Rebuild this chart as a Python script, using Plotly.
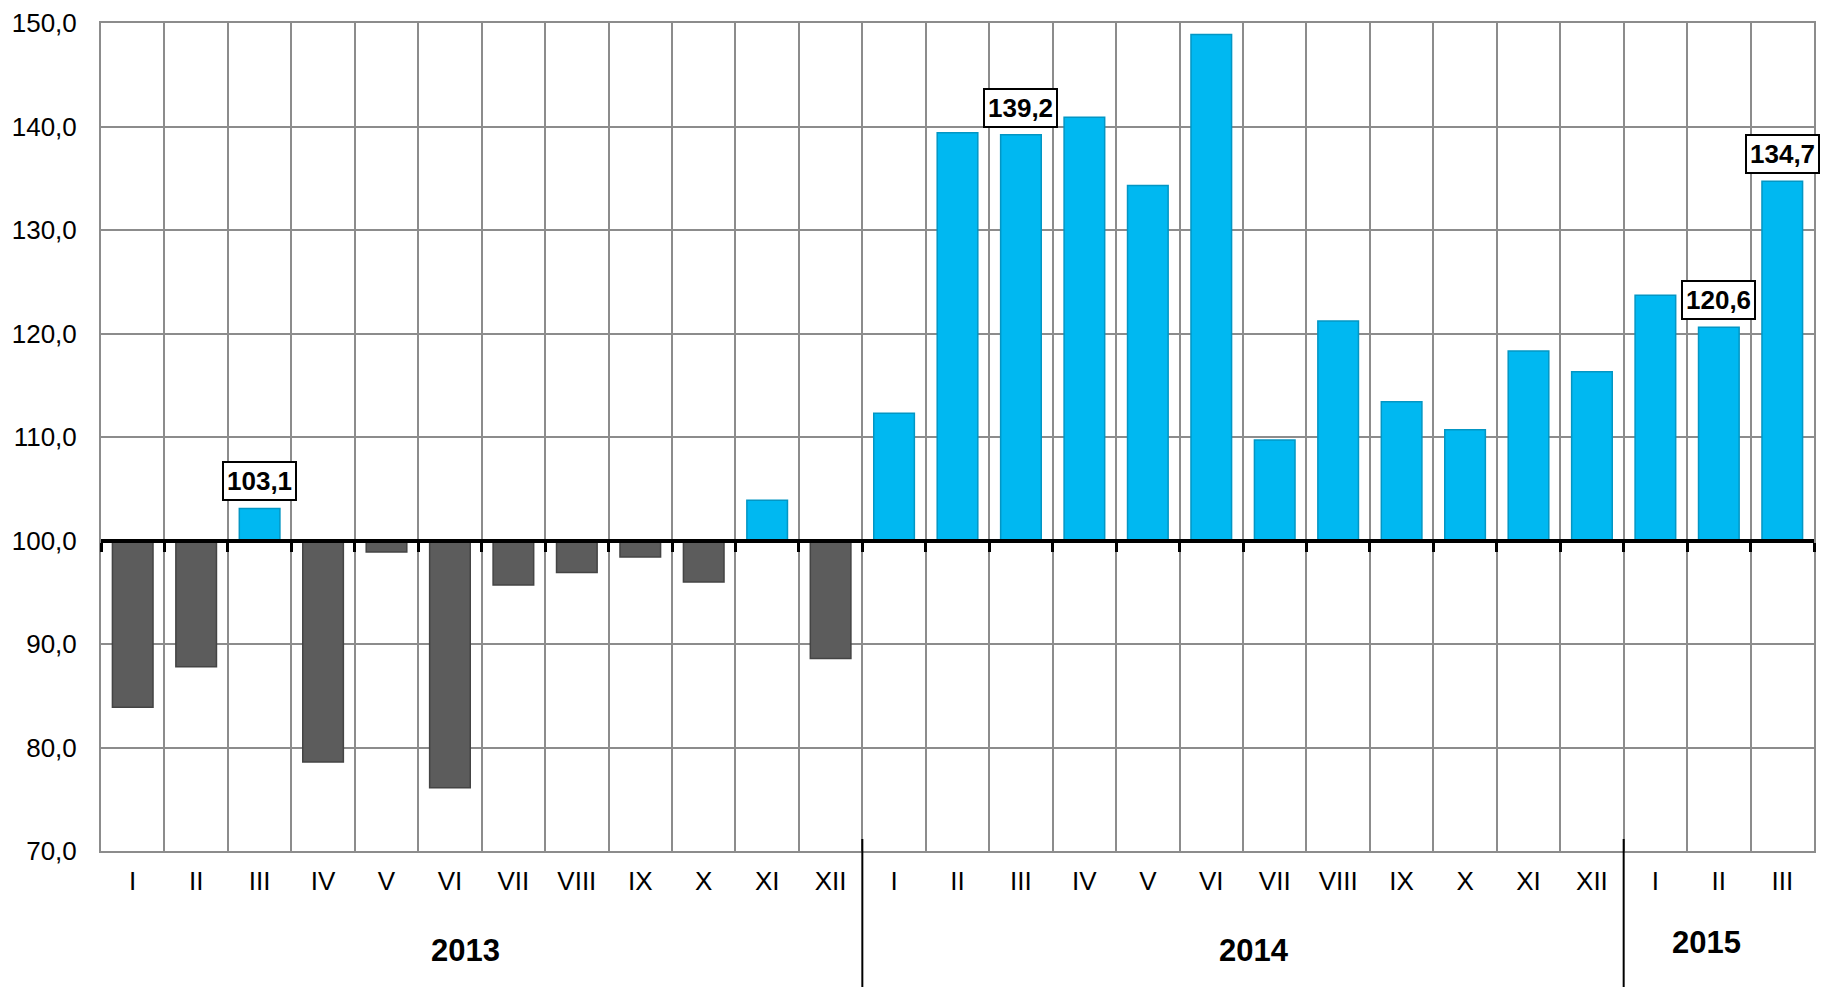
import numpy as np
import plotly.graph_objects as go

# ---- data ----
years = ["2013", "2014", "2015"]
months_2013 = ["I", "II", "III", "IV", "V", "VI", "VII", "VIII", "IX", "X", "XI", "XII"]
months_2014 = ["I", "II", "III", "IV", "V", "VI", "VII", "VIII", "IX", "X", "XI", "XII"]
months_2015 = ["I", "II", "III"]
values_2013 = [83.9, 87.8, 103.1, 78.6, 98.9, 76.1, 95.7, 96.9, 98.4, 96.0, 103.9, 88.6]
values_2014 = [112.3, 139.4, 139.2, 140.9, 134.3, 148.9, 109.7, 121.2, 113.4, 110.7, 118.3, 116.3]
values_2015 = [123.7, 120.6, 134.7]
labelled = [2, 14, 25, 26]          # indices of bars carrying a boxed value label
base_level = 100.0
y_ticks = [70, 80, 90, 100, 110, 120, 130, 140, 150]

months = months_2013 + months_2014 + months_2015
values = values_2013 + values_2014 + values_2015
group_sizes = [len(months_2013), len(months_2014), len(months_2015)]
n = len(values)
x = np.arange(n)

BLUE = "#00b8f1"
BLUE_EDGE = "#0396c4"
GREY = "#5c5c5c"
GREY_EDGE = "#444444"
GRID = "#8c8c8c"
FONT = "Liberation Sans, Arial, sans-serif"

colors = [BLUE if v >= base_level else GREY for v in values]
edges = [BLUE_EDGE if v >= base_level else GREY_EDGE for v in values]

fig = go.Figure()
fig.add_trace(go.Bar(
    x=x,
    y=[v - base_level for v in values],
    base=base_level,
    width=0.64,
    marker=dict(color=colors, line=dict(color=edges, width=1.5)),
    hoverinfo="skip",
    showlegend=False,
))
# empty trace so the baseline axis (x2) gets drawn
fig.add_trace(go.Scatter(x=[None], y=[None], xaxis="x2", yaxis="y",
                         mode="markers", hoverinfo="skip", showlegend=False))

boundaries = np.arange(-0.5, n, 1.0)

fig.update_layout(
    width=1823, height=987,
    margin=dict(l=101, r=7, t=23, b=136),
    paper_bgcolor="white", plot_bgcolor="white",
    separators=", ",
    font=dict(family=FONT, color="black"),
    showlegend=False,
    xaxis=dict(
        range=[-0.5, n - 0.5],
        tickmode="array", tickvals=x, ticktext=months,
        ticks="", showgrid=False, zeroline=False,
        tickfont=dict(size=26, family=FONT, color="black"),
        ticklabelstandoff=6,
        showline=True, mirror=True, linecolor=GRID, linewidth=2,
        minor=dict(tickmode="array", tickvals=boundaries, showgrid=True,
                   gridcolor=GRID, gridwidth=2, ticks=""),
    ),
    xaxis2=dict(
        overlaying="x", anchor="free",
        position=(base_level - y_ticks[0]) / (y_ticks[-1] - y_ticks[0]),
        range=[-0.5, n - 0.5],
        tickmode="array", tickvals=boundaries,
        ticks="outside", ticklen=9, tickwidth=3, tickcolor="black",
        showticklabels=False, showgrid=False, zeroline=False,
        showline=True, linecolor="black", linewidth=4,
    ),
    yaxis=dict(
        range=[y_ticks[0], y_ticks[-1]],
        tickmode="array", tickvals=y_ticks, tickformat=".1f",
        showgrid=True, gridcolor=GRID, gridwidth=2,
        zeroline=False, ticks="",
        tickfont=dict(size=26, family=FONT, color="black"),
        ticklabelstandoff=17,
        showline=True, mirror=True, linecolor=GRID, linewidth=2,
    ),
)

# value labels in boxes
for i in labelled:
    fig.add_annotation(
        x=x[i], y=values[i], xref="x", yref="y",
        text=f"{values[i]:.1f}".replace(".", ","),
        showarrow=False, yanchor="bottom", yshift=7,
        font=dict(size=26, family=FONT, color="black", weight="bold"),
        bordercolor="black", borderwidth=2, borderpad=3, bgcolor="white",
    )

# year labels and separators
start = 0
year_yshift = {"2013": -99, "2014": -99, "2015": -91}
year_xshift = {"2013": -16, "2014": 11, "2015": -12}
for yr, size in zip(years, group_sizes):
    center = start + (size - 1) / 2
    fig.add_annotation(
        x=center, y=0, xref="x", yref="paper",
        text=yr, showarrow=False, yanchor="middle",
        yshift=year_yshift[yr], xshift=year_xshift[yr],
        font=dict(size=31, family=FONT, color="black", weight="bold"),
    )
    start += size
    if start < n:
        fig.add_shape(
            type="line", xref="x", yref="paper",
            x0=start - 0.5, x1=start - 0.5,
            ysizemode="pixel", yanchor=0, y0=12, y1=-140,
            line=dict(color="black", width=2),
        )

fig.write_html("out.html", config={"displayModeBar": False},
               post_script="document.body.style.margin='0';document.body.style.overflow='hidden';")
